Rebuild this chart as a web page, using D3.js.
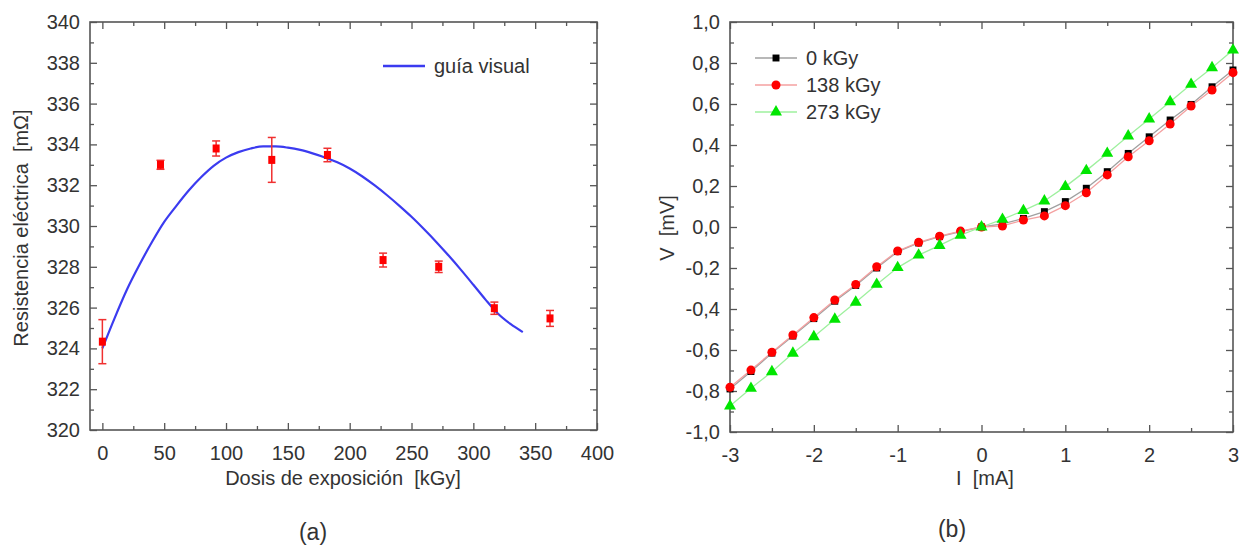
<!DOCTYPE html>
<html>
<head>
  <meta charset="utf-8">
  <title>Resistencia e I-V</title>
  <script src="https://cdnjs.cloudflare.com/ajax/libs/d3/7.8.5/d3.min.js"></script>
  <style>
    body { margin: 0; background: #fff; }
    svg { display: block; font-family: "Liberation Sans", Arial, sans-serif; }
    .tick text { fill: #333; }
    .lbl { fill: #333; white-space: pre; }
  </style>
</head>
<body>
  <svg id="chart" width="1247" height="545"></svg>
  <script>
    // Panel (a): resistance vs dose
    const doseKGy = [0, 47, 92, 137, 182, 227, 272, 317, 362];
    const resistance = [324.33, 333.0, 333.8, 333.24, 333.48, 328.33, 328.0, 325.97, 325.47];
    const resErr = [1.08, 0.22, 0.37, 1.1, 0.33, 0.34, 0.28, 0.3, 0.39];

    // visual guide curve
    const guideDose = [0, 10, 20, 30, 40, 50, 60, 70, 80, 90, 100, 110, 120, 130, 140, 150, 160, 170,
      180, 190, 200, 210, 220, 230, 240, 250, 260, 270, 280, 290, 300, 310, 320, 330, 340];
    const guideRes = [324.0, 325.5, 326.9, 328.1, 329.2, 330.2, 331.0, 331.75, 332.4, 332.95, 333.35,
      333.62, 333.8, 333.9, 333.9, 333.84, 333.73, 333.56, 333.36, 333.12, 332.82, 332.44, 332.0,
      331.52, 331.0, 330.45, 329.85, 329.22, 328.55, 327.85, 327.12, 326.38, 325.7, 325.2, 324.8];

    // Panel (b): I-V curves
    const currentMA = [-3, -2.75, -2.5, -2.25, -2, -1.75, -1.5, -1.25, -1, -0.75, -0.5, -0.25, 0,
      0.25, 0.5, 0.75, 1, 1.25, 1.5, 1.75, 2, 2.25, 2.5, 2.75, 3];
    const v0 = [-0.79, -0.705, -0.615, -0.532, -0.447, -0.362, -0.285, -0.2, -0.12, -0.078, -0.047, -0.022, 0,
      0.015, 0.042, 0.075, 0.124, 0.189, 0.27, 0.359, 0.44, 0.522, 0.598, 0.684, 0.766];
    const v138 = [-0.782, -0.698, -0.611, -0.527, -0.442, -0.356, -0.28, -0.194, -0.117, -0.075, -0.045, -0.02, 0,
      0.005, 0.034, 0.054, 0.104, 0.167, 0.254, 0.343, 0.421, 0.502, 0.59, 0.668, 0.753];
    const v273 = [-0.873, -0.787, -0.706, -0.616, -0.535, -0.45, -0.367, -0.28, -0.198, -0.137, -0.09, -0.04, 0,
      0.037, 0.08, 0.127, 0.197, 0.275, 0.359, 0.444, 0.527, 0.611, 0.696, 0.777, 0.863];
    const seriesNames = ["0 kGy", "138 kGy", "273 kGy"];

    const svg = d3.select("#chart");
    const fontSize = 20;
    const frameColor = "#555";

    // draws the box with inward ticks on all four sides
    function drawFrame(g, x, y, xMajor, xMinor, yMajor, yMinor, xFmt, yFmt) {
      const [x0, x1] = x.range();
      const [y0, y1] = y.range();
      const setup = sel => {
        sel.select(".domain").remove();
        sel.selectAll(".tick line").attr("stroke", frameColor).attr("stroke-width", 1.3);
      };
      g.append("g").attr("transform", `translate(0,${y0})`)
        .call(d3.axisBottom(x).tickValues(xMajor).tickSizeInner(-7).tickPadding(16).tickFormat(xFmt))
        .call(setup).selectAll("text").attr("font-size", fontSize);
      g.append("g").attr("transform", `translate(0,${y0})`)
        .call(d3.axisBottom(x).tickValues(xMinor).tickSize(-4).tickFormat("")).call(setup);
      g.append("g").attr("transform", `translate(0,${y1})`)
        .call(d3.axisTop(x).tickValues(xMajor).tickSize(-7).tickFormat("")).call(setup);
      g.append("g").attr("transform", `translate(0,${y1})`)
        .call(d3.axisTop(x).tickValues(xMinor).tickSize(-4).tickFormat("")).call(setup);
      g.append("g").attr("transform", `translate(${x0},0)`)
        .call(d3.axisLeft(y).tickValues(yMajor).tickSizeInner(-7).tickPadding(10).tickFormat(yFmt))
        .call(setup).selectAll("text").attr("font-size", fontSize);
      g.append("g").attr("transform", `translate(${x0},0)`)
        .call(d3.axisLeft(y).tickValues(yMinor).tickSize(-4).tickFormat("")).call(setup);
      g.append("g").attr("transform", `translate(${x1},0)`)
        .call(d3.axisRight(y).tickValues(yMajor).tickSize(-7).tickFormat("")).call(setup);
      g.append("g").attr("transform", `translate(${x1},0)`)
        .call(d3.axisRight(y).tickValues(yMinor).tickSize(-4).tickFormat("")).call(setup);
      g.append("rect")
        .attr("x", x0).attr("y", y1).attr("width", x1 - x0).attr("height", y0 - y1)
        .attr("fill", "none").attr("stroke", frameColor).attr("stroke-width", 1.6);
    }

    // ---------- panel (a) ----------
    const xa = d3.scaleLinear().domain([-10, 400]).range([90, 597]);
    const ya = d3.scaleLinear().domain([320, 340]).range([430, 22]);
    const ga = svg.append("g");

    drawFrame(ga, xa, ya,
      d3.range(0, 401, 50), d3.range(25, 400, 50),
      d3.range(320, 341, 2), d3.range(321, 340, 2),
      d3.format("d"), d3.format("d"));

    ga.append("path")
      .datum(guideDose.map((d, i) => [d, guideRes[i]]))
      .attr("fill", "none").attr("stroke", "#3b3bf0").attr("stroke-width", 2.2)
      .attr("d", d3.line().x(d => xa(d[0])).y(d => ya(d[1])).curve(d3.curveMonotoneX));

    const pts = ga.append("g").selectAll("g")
      .data(doseKGy.map((d, i) => ({ x: d, y: resistance[i], e: resErr[i] })))
      .join("g").attr("stroke", "#f03030").attr("stroke-width", 1.5);
    pts.append("line")
      .attr("x1", d => xa(d.x)).attr("x2", d => xa(d.x))
      .attr("y1", d => ya(d.y - d.e)).attr("y2", d => ya(d.y + d.e));
    pts.append("line")
      .attr("x1", d => xa(d.x) - 4).attr("x2", d => xa(d.x) + 4)
      .attr("y1", d => ya(d.y - d.e)).attr("y2", d => ya(d.y - d.e));
    pts.append("line")
      .attr("x1", d => xa(d.x) - 4).attr("x2", d => xa(d.x) + 4)
      .attr("y1", d => ya(d.y + d.e)).attr("y2", d => ya(d.y + d.e));
    pts.append("rect")
      .attr("x", d => xa(d.x) - 3.5).attr("y", d => ya(d.y) - 4)
      .attr("width", 7).attr("height", 8)
      .attr("fill", "#ff0000").attr("stroke", "none");

    // legend (a)
    ga.append("line").attr("x1", 383).attr("x2", 425).attr("y1", 66).attr("y2", 66)
      .attr("stroke", "#3b3bf0").attr("stroke-width", 2.5);
    ga.append("text").attr("class", "lbl").attr("x", 434).attr("y", 66).attr("dy", "0.35em")
      .attr("font-size", fontSize).text("guía visual");

    ga.append("text").attr("class", "lbl")
      .attr("transform", "translate(28,228) rotate(-90)")
      .attr("text-anchor", "middle").attr("font-size", fontSize)
      .text("Resistencia eléctrica  [mΩ]");
    ga.append("text").attr("class", "lbl")
      .attr("x", 343).attr("y", 485).attr("text-anchor", "middle").attr("font-size", fontSize)
      .text("Dosis de exposición  [kGy]");
    ga.append("text").attr("class", "lbl")
      .attr("x", 313).attr("y", 540).attr("text-anchor", "middle").attr("font-size", 23)
      .text("(a)");

    // ---------- panel (b) ----------
    const xb = d3.scaleLinear().domain([-3, 3]).range([730, 1233]);
    const yb = d3.scaleLinear().domain([-1, 1]).range([432, 22]);
    const gb = svg.append("g");
    const comma = d => d3.format(".1f")(d).replace(".", ",").replace("−", "-");

    drawFrame(gb, xb, yb,
      d3.range(-3, 3.01, 1), d3.range(-2.5, 3, 1),
      d3.range(-10, 11, 2).map(d => d / 10), d3.range(-9, 10, 2).map(d => d / 10),
      d => d3.format("d")(d).replace("−", "-"), comma);

    const series = [
      { name: seriesNames[0], v: v0, line: "#a0a0a0", fill: "#000000", sym: d3.symbolSquare, size: 48 },
      { name: seriesNames[1], v: v138, line: "#f4a0a0", fill: "#ff0000", sym: d3.symbolCircle, size: 64 },
      { name: seriesNames[2], v: v273, line: "#9ef09e", fill: "#00e600", sym: d3.symbolTriangle, size: 62 }
    ];

    const lineB = d3.line().x(d => xb(d[0])).y(d => yb(d[1]));
    series.forEach(s => {
      gb.append("path")
        .datum(currentMA.map((c, i) => [c, s.v[i]]))
        .attr("fill", "none").attr("stroke", s.line).attr("stroke-width", 1.3)
        .attr("d", lineB);
    });
    series.forEach(s => {
      gb.append("g").selectAll("path")
        .data(currentMA.map((c, i) => [c, s.v[i]]))
        .join("path")
        .attr("transform", d => `translate(${xb(d[0])},${yb(d[1])})`)
        .attr("d", d3.symbol().type(s.sym).size(s.size))
        .attr("fill", s.fill);
    });

    // legend (b)
    const leg = gb.append("g").selectAll("g").data(series).join("g")
      .attr("transform", (d, i) => `translate(0,${58 + i * 27})`);
    leg.append("line").attr("x1", 755).attr("x2", 797).attr("y1", 0).attr("y2", 0)
      .attr("stroke", d => d.line).attr("stroke-width", 1.5);
    leg.append("path").attr("transform", "translate(776,0)")
      .attr("d", d => d3.symbol().type(d.sym).size(d.size)())
      .attr("fill", d => d.fill);
    leg.append("text").attr("class", "lbl").attr("x", 806).attr("dy", "0.35em")
      .attr("font-size", fontSize).text(d => d.name);

    gb.append("text").attr("class", "lbl")
      .attr("transform", "translate(674,228) rotate(-90)")
      .attr("text-anchor", "middle").attr("font-size", fontSize)
      .text("V  [mV]");
    gb.append("text").attr("class", "lbl")
      .attr("x", 985).attr("y", 485).attr("text-anchor", "middle").attr("font-size", fontSize)
      .text("I  [mA]");
    gb.append("text").attr("class", "lbl")
      .attr("x", 952).attr("y", 537).attr("text-anchor", "middle").attr("font-size", 23)
      .text("(b)");
  </script>
</body>
</html>
